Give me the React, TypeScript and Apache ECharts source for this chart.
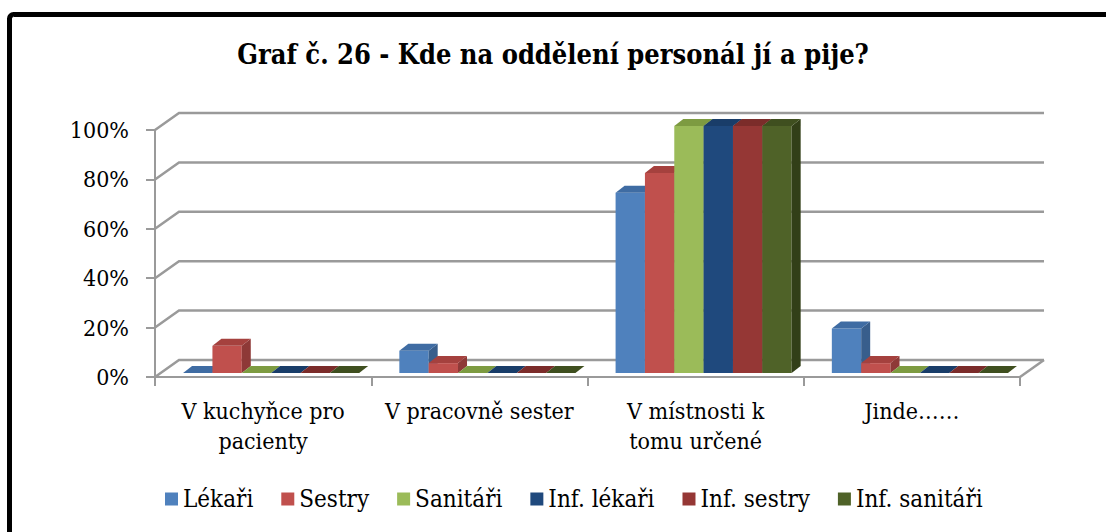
import React, { useEffect, useRef } from 'react';
import * as echarts from 'echarts';

const categories = ['V kuchyňce pro\npacienty', 'V pracovně sester', 'V místnosti k\ntomu určené', 'Jinde……'];
const seriesNames = ['Lékaři', 'Sestry', 'Sanitáři', 'Inf. lékaři', 'Inf. sestry', 'Inf. sanitáři'];
const lekari = [0, 9, 73, 18];
const sestry = [11, 4, 81, 4];
const sanitari = [0, 0, 100, 0];
const infLekari = [0, 0, 100, 0];
const infSestry = [0, 0, 100, 0];
const infSanitari = [0, 0, 100, 0];
const yTicks = [0, 20, 40, 60, 80, 100];

const seriesValues = [lekari, sestry, sanitari, infLekari, infSestry, infSanitari];
const frontColors = ['#4F81BD', '#C0504D', '#9BBB59', '#1F497D', '#953735', '#4F6228'];
const topColors = ['#3F6CA3', '#A5413E', '#7D9B41', '#193D69', '#7B2C2A', '#3F4F1F'];
const sideColors = ['#385E8C', '#8E3937', '#6E8938', '#15345A', '#672523', '#323F18'];

const FONT = "'DejaVu Serif Condensed', 'DejaVu Serif', serif";
const WALL_DX = 24;
const WALL_DY = -17;
const BAR_DX = 9;
const BAR_DY = -7;
const SHIFT_X = 8;
const SHIFT_Y = -4;
const GRID_COLOR = '#9A9A9A';

export default function App() {
  const ref = useRef<HTMLDivElement>(null);
  useEffect(() => {
    if (!ref.current) return;
    const chart = echarts.init(ref.current, null, { renderer: 'svg' });

    const wallSeries: any = {
      type: 'custom',
      name: '_walls',
      z: 1,
      clip: false,
      silent: true,
      data: yTicks.map((v) => [0, v]),
      encode: { x: 0, y: 1 },
      renderItem: (params: any, api: any) => {
        const v = api.value(1);
        const cs = params.coordSys;
        const y = api.coord([0, v])[1];
        const xl = cs.x;
        const xr = cs.x + cs.width;
        const children: any[] = [
          {
            type: 'polyline',
            shape: { points: [[xl, y], [xl + WALL_DX, y + WALL_DY], [xr + WALL_DX, y + WALL_DY]] },
            style: { stroke: GRID_COLOR, lineWidth: 2.5, fill: 'none' },
          },
        ];
        if (v === 0) {
          children.push({
            type: 'line',
            shape: { x1: xr, y1: y, x2: xr + WALL_DX, y2: y + WALL_DY },
            style: { stroke: GRID_COLOR, lineWidth: 2.5 },
          });
        }
        return { type: 'group', children };
      },
    };

    const barSeries = seriesNames.map((name, si) => ({
      type: 'custom',
      name,
      z: 2,
      clip: false,
      itemStyle: { color: frontColors[si] },
      data: seriesValues[si].map((v, i) => [i, v]),
      encode: { x: 0, y: 1 },
      renderItem: (params: any, api: any) => {
        const cat = api.value(0);
        const val = api.value(1);
        const base = api.coord([cat, 0]);
        const top = api.coord([cat, val]);
        const catW = api.size([1, 0])[0];
        const bw = catW * 0.1357;
        const x0 = base[0] - 3 * bw + SHIFT_X + si * bw;
        const x1 = x0 + bw;
        const yb = base[1] + SHIFT_Y;
        const yt = top[1] + SHIFT_Y;
        const children: any[] = [];
        if (yb - yt > 0.5) {
          children.push({
            type: 'polygon',
            shape: { points: [[x0, yt], [x1, yt], [x1, yb], [x0, yb]] },
            style: { fill: frontColors[si] },
          });
          children.push({
            type: 'polygon',
            shape: { points: [[x1, yt], [x1 + BAR_DX, yt + BAR_DY], [x1 + BAR_DX, yb + BAR_DY], [x1, yb]] },
            style: { fill: sideColors[si] },
          });
        }
        children.push({
          type: 'polygon',
          shape: { points: [[x0, yt], [x1, yt], [x1 + BAR_DX, yt + BAR_DY], [x0 + BAR_DX, yt + BAR_DY]] },
          style: { fill: topColors[si] },
        });
        return { type: 'group', children };
      },
    }));

    chart.setOption({
      animation: false,
      textStyle: { fontFamily: FONT },
      title: {
        text: 'Graf č. 26 - Kde na oddělení personál jí a pije?',
        left: 'center',
        top: 36,
        textStyle: { fontFamily: FONT, fontSize: 27, fontWeight: 'bold', color: '#000' },
      },
      legend: {
        data: seriesNames,
        left: 160,
        top: 482,
        icon: 'rect',
        itemWidth: 13,
        itemHeight: 13,
        itemGap: 28,
        textStyle: { fontFamily: FONT, fontSize: 24, color: '#000' },
      },
      graphic: [
        {
          type: 'rect',
          shape: { x: 9.5, y: 14.5, width: 1300, height: 800, r: 4 },
          style: { fill: 'none', stroke: '#000', lineWidth: 5 },
          z: 100,
          silent: true,
        },
      ],
      grid: { left: 155, right: 86, top: 130, bottom: 155, containLabel: false },
      xAxis: {
        type: 'category',
        data: categories,
        boundaryGap: true,
        axisLine: { show: true, lineStyle: { color: GRID_COLOR, width: 2 } },
        axisTick: { show: true, length: 9, lineStyle: { color: GRID_COLOR, width: 2 } },
        axisLabel: {
          margin: 19,
          fontFamily: FONT,
          fontSize: 23,
          lineHeight: 30,
          color: '#000',
          interval: 0,
        },
        splitLine: { show: false },
      },
      yAxis: {
        type: 'value',
        min: 0,
        max: 100,
        interval: 20,
        axisLine: { show: true, lineStyle: { color: GRID_COLOR, width: 2 } },
        axisTick: { show: true, length: 9, lineStyle: { color: GRID_COLOR, width: 2 } },
        axisLabel: {
          formatter: '{value}%',
          margin: 26,
          fontFamily: FONT,
          fontSize: 23,
          color: '#000',
        },
        splitLine: { show: false },
      },
      series: [wallSeries, ...barSeries],
    });
    return () => chart.dispose();
  }, []);
  return (
    <div
      ref={ref}
      style={{ position: 'fixed', left: 0, top: 0, width: 1106, height: 532, background: '#fff' }}
    />
  );
}
